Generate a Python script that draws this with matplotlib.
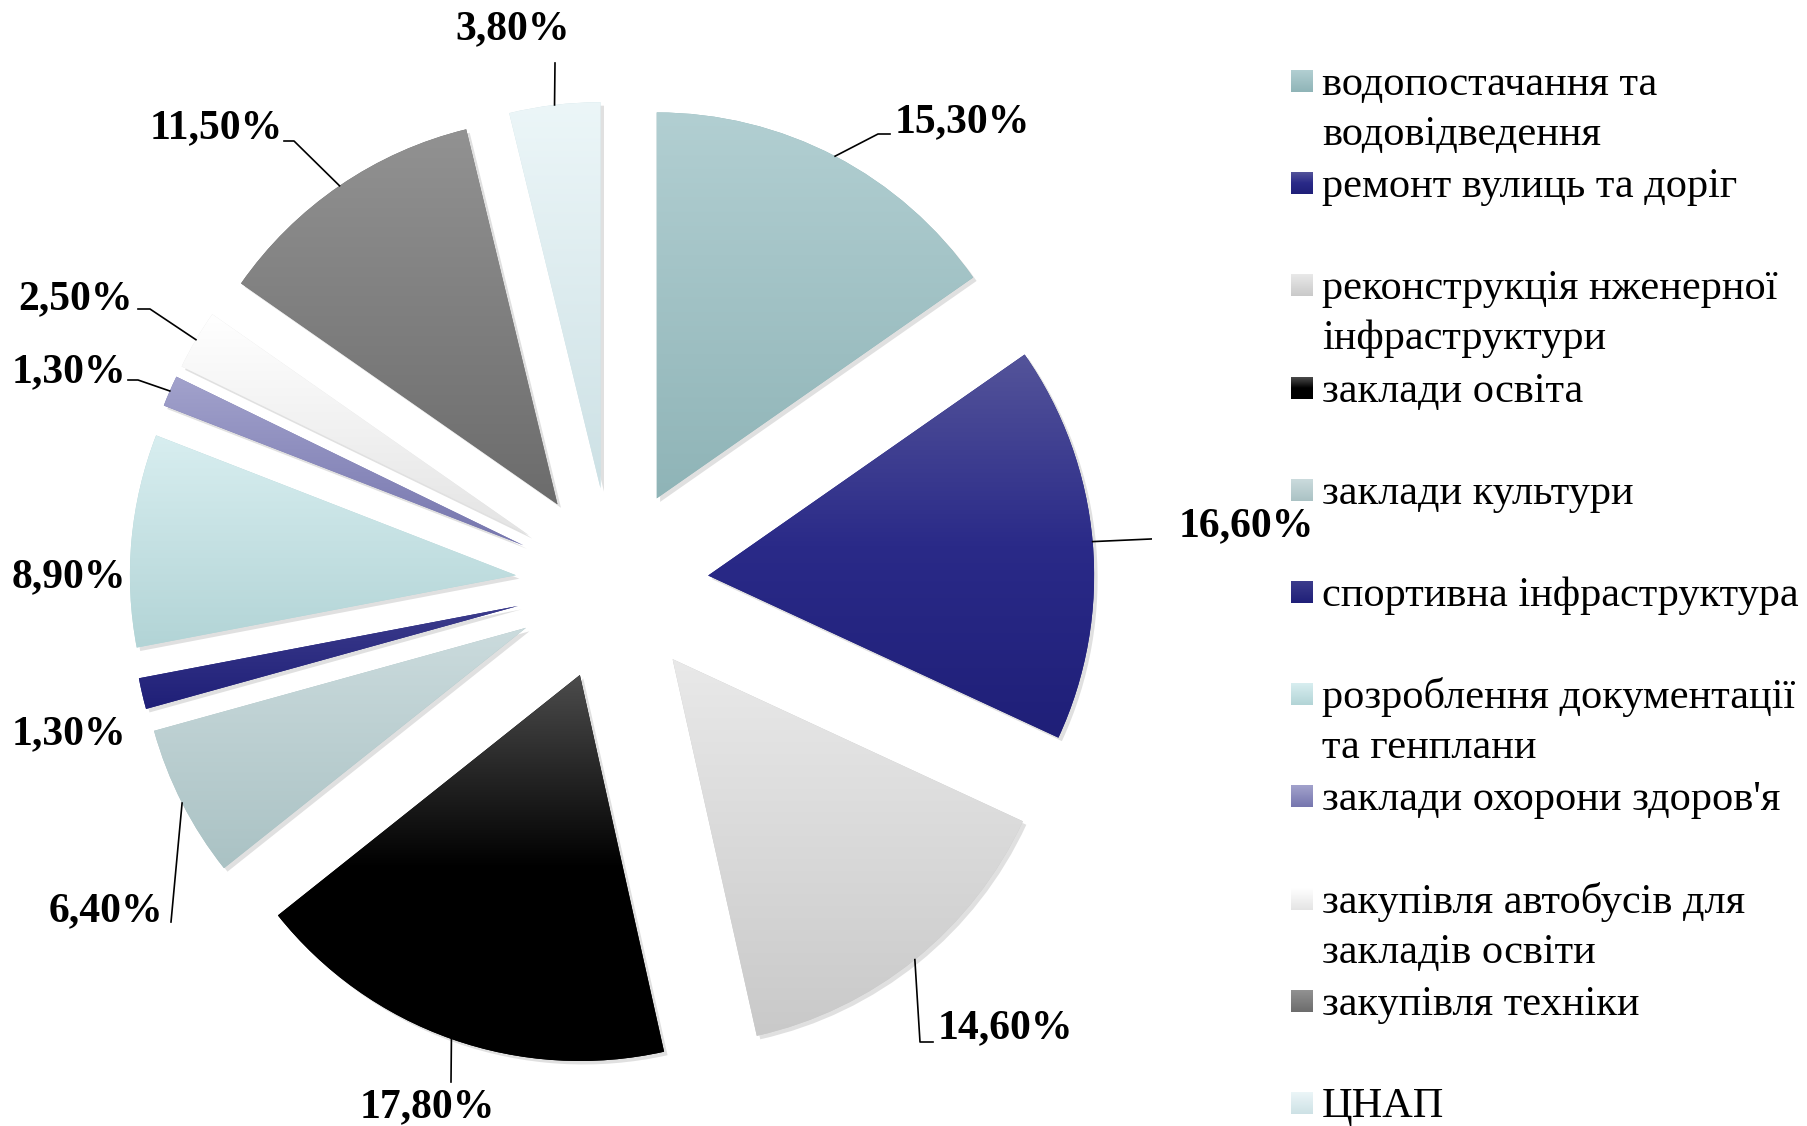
import numpy as np
import matplotlib.pyplot as plt
from matplotlib.colors import LinearSegmentedColormap
from matplotlib import patheffects

# data
categories = ['водопостачання та\nводовідведення',
              'ремонт вулиць та доріг',
              'реконструкція нженерної\nінфраструктури',
              'заклади освіта',
              'заклади культури',
              'спортивна інфраструктура',
              'розроблення документації\nта генплани',
              "заклади охорони здоров'я",
              'закупівля автобусів для\nзакладів освіти',
              'закупівля техніки',
              'ЦНАП']
shares = [15.3, 16.6, 14.6, 17.8, 6.4, 1.3, 8.9, 1.3, 2.5, 11.5, 3.8]
pct_labels = [f'{v:.2f}%'.replace('.', ',') for v in shares]

# gradient stops per slice, top -> bottom
grad_stops = [['#b2cfd2', '#8fb4b7'],
              ['#54549a', '#2a2a88', '#1f1f78'],
              ['#e9e9e9', '#c9c9c9'],
              ['#4c4c4c', '#000000', '#000000'],
              ['#cbdbdd', '#aac2c4'],
              ['#3c3c8c', '#1f1f78'],
              ['#d8eef0', '#b2d4d6'],
              ['#a2a2cc', '#7676ae'],
              ['#ffffff', '#e4e4e4'],
              ['#929292', '#6c6c6c'],
              ['#ecf6f8', '#cde1e5']]

# layout in pixels (figure 1808 x 1126)
W, H = 1808, 1126
CX, CY, RPX = 612, 584, 386
L = 1.4

# label centres (px), leader end and tail (px) or None
label_pos = [(962, 122), (1246, 526), (1005, 1028), (427, 1107), (106, 911),
             (69, 734), (69, 577), (69, 372), (75, 299), (216, 128), (513, 29)]
leaders = [[(878, 134), (890, 134)],
           [(1173, 538)],
           [(920, 1042), (933, 1042)],
           [(451, 1082)],
           [(171, 922)],
           None,
           None,
           [(138, 380), (128, 380)],
           [(150, 309), (138, 309)],
           [(294, 141), (284, 141)],
           [(555, 63)]]


def px2d(p):
    return ((p[0] - CX) / RPX, (CY - p[1]) / RPX)


fig = plt.figure(figsize=(W / 100, H / 100), dpi=100)
half = L * RPX
ax = fig.add_axes([(CX - half) / W, (H - CY - half) / H, 2 * half / W, 2 * half / H])

wedges, _ = ax.pie(shares, startangle=90, counterclock=False,
                   explode=[0.25] * len(shares), radius=1,
                   wedgeprops=dict(linewidth=0))

grad = np.linspace(0, 1, 256).reshape(-1, 1)
for w, stops in zip(wedges, grad_stops):
    w.set_facecolor(stops[-1])
    w.set_path_effects([patheffects.SimplePatchShadow(offset=(2.5, -2.5), shadow_rgbFace='#999999', alpha=0.3),
                        patheffects.Normal()])
    x0, y0, x1, y1 = w.get_path().get_extents().extents
    cmap = LinearSegmentedColormap.from_list('g', stops)
    im = ax.imshow(grad, extent=[x0, x1, y0, y1], origin='upper', cmap=cmap,
                   aspect='auto', interpolation='bilinear', zorder=w.get_zorder() + 0.1)
    im.set_clip_path(w)

for w, lab, pos, ld in zip(wedges, pct_labels, label_pos, leaders):
    tx, ty = px2d(pos)
    ax.text(tx, ty, lab, ha='center', va='center', fontsize=30, fontweight='bold',
            family='Liberation Serif', zorder=5)
    if ld is None:
        continue
    mid = np.deg2rad((w.theta1 + w.theta2) / 2)
    sx = w.center[0] + w.r * np.cos(mid)
    sy = w.center[1] + w.r * np.sin(mid)
    pts = [(sx, sy)] + [px2d(p) for p in ld]
    ax.plot([p[0] for p in pts], [p[1] for p in pts], color='black', lw=1.2, zorder=5)

ax.set_xlim(-L, L)
ax.set_ylim(-L, L)
ax.set_aspect('equal')
ax.axis('off')

# legend drawn by hand so every entry gets the same slot height
lax = fig.add_axes([0, 0, 1, 1], zorder=-1)
lax.set_xlim(0, W)
lax.set_ylim(H, 0)
lax.axis('off')
y_first, step, line_gap = 95, 102.2, 50
for i, (cat, stops) in enumerate(zip(categories, grad_stops)):
    yb = y_first + i * step
    cmap = LinearSegmentedColormap.from_list('g', stops)
    lax.imshow(grad, extent=[1291, 1313, yb - 3, yb - 25], origin='upper', cmap=cmap,
               aspect='auto', interpolation='bilinear')
    for j, line in enumerate(cat.split('\n')):
        lax.text(1322, yb + j * line_gap, line, va='baseline', ha='left', fontsize=30.5,
                 family='Liberation Serif')
lax.set_xlim(0, W)
lax.set_ylim(H, 0)

fig.savefig('out.png', dpi=100, facecolor='white')
